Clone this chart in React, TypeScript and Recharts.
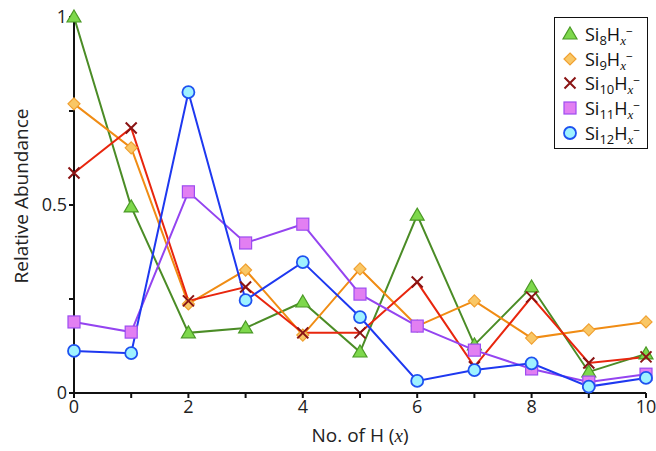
import { Line, LineChart, XAxis, YAxis } from "recharts"

const hCounts = [0, 1, 2, 3, 4, 5, 6, 7, 8, 9, 10]
const si8 = [1.0, 0.495, 0.16, 0.173, 0.242, 0.109, 0.473, 0.128, 0.282, 0.056, 0.104]
const si9 = [0.769, 0.652, 0.237, 0.327, 0.154, 0.33, 0.178, 0.245, 0.146, 0.168, 0.189]
const si10 = [0.585, 0.705, 0.245, 0.282, 0.16, 0.16, 0.295, 0.07, 0.255, 0.08, 0.096]
const si11 = [0.189, 0.162, 0.535, 0.399, 0.449, 0.263, 0.178, 0.114, 0.064, 0.029, 0.05]
const si12 = [0.112, 0.106, 0.8, 0.247, 0.348, 0.202, 0.032, 0.061, 0.079, 0.017, 0.04]

const xTicks = [0, 1, 2, 3, 4, 5, 6, 7, 8, 9, 10]
const yTicks = [0, 0.25, 0.5, 0.75, 1]

type Shape = "triangle" | "diamond" | "cross" | "square" | "circle"

const series: { key: string; n: string; line: string; fill: string; stroke: string; shape: Shape }[] = [
  { key: "si8", n: "8", line: "#4b8c26", fill: "#7ed84c", stroke: "#4b9a26", shape: "triangle" },
  { key: "si9", n: "9", line: "#f08c14", fill: "#f9c766", stroke: "#f0a030", shape: "diamond" },
  { key: "si10", n: "10", line: "#e8260e", fill: "none", stroke: "#8a1414", shape: "cross" },
  { key: "si11", n: "11", line: "#9444f0", fill: "#e27ff2", stroke: "#9d4cf0", shape: "square" },
  { key: "si12", n: "12", line: "#1e38f0", fill: "#9ff2ff", stroke: "#1e52f0", shape: "circle" },
]

const data = hCounts.map((h, i) => ({
  h,
  si8: si8[i],
  si9: si9[i],
  si10: si10[i],
  si11: si11[i],
  si12: si12[i],
}))

const font = "'Open Sans', 'DejaVu Sans', sans-serif"

function Marker({ cx, cy, shape, fill, stroke }: any) {
  if (cx == null || cy == null) return null
  if (shape === "triangle") {
    return <path d={`M${cx},${cy - 7} L${cx + 7},${cy + 5} L${cx - 7},${cy + 5} Z`} fill={fill} stroke={stroke} strokeWidth={1.2} />
  }
  if (shape === "diamond") {
    return <path d={`M${cx},${cy - 6} L${cx + 6},${cy} L${cx},${cy + 6} L${cx - 6},${cy} Z`} fill={fill} stroke={stroke} strokeWidth={1.2} />
  }
  if (shape === "cross") {
    return <path d={`M${cx - 5.5},${cy - 5.5} L${cx + 5.5},${cy + 5.5} M${cx + 5.5},${cy - 5.5} L${cx - 5.5},${cy + 5.5}`} stroke={stroke} strokeWidth={2} />
  }
  if (shape === "square") {
    return <rect x={cx - 6} y={cy - 6} width={12} height={12} fill={fill} stroke={stroke} strokeWidth={1.2} />
  }
  return <circle cx={cx} cy={cy} r={6} fill={fill} stroke={stroke} strokeWidth={1.8} />
}

const subStyle = { fontSize: 13, position: "relative" as const, top: 4, lineHeight: 1 }
const supStyle = { fontSize: 12, position: "relative" as const, top: -5, lineHeight: 1 }

function LegendBox() {
  return (
    <div
      style={{
        position: "absolute",
        left: 554,
        top: 17,
        border: "1.5px solid #111",
        background: "#fff",
        width: 92,
        padding: "4px 0 3px 0",
        fontFamily: font,
        fontSize: 18,
        color: "#111",
      }}
    >
      {series.map((s) => (
        <div key={s.key} style={{ display: "flex", alignItems: "center", height: 24.6 }}>
          <svg width={30} height={20} style={{ flex: "none" }}>
            <Marker cx={15} cy={10} shape={s.shape} fill={s.fill} stroke={s.stroke} />
          </svg>
          <span style={{ whiteSpace: "nowrap", lineHeight: 1 }}>
            Si<span style={subStyle}>{s.n}</span>H
            <span style={{ ...subStyle, fontSize: 13, fontStyle: "italic", fontFamily: "'Liberation Serif', serif" }}>x</span>
            <span style={supStyle}>−</span>
          </span>
        </div>
      ))}
    </div>
  )
}

export default function App() {
  return (
    <div style={{ position: "absolute", left: 0, top: 0, width: 656, height: 451, background: "#fff" }}>
      <LineChart width={656} height={451} data={data} margin={{ top: 17, right: 10, bottom: 0, left: 0 }}>
        <XAxis
          dataKey="h"
          type="number"
          domain={[0, 10]}
          ticks={xTicks}
          interval={0}
          height={58}
          stroke="#111"
          strokeWidth={2}
          tickSize={5}
          tick={{ fill: "#222", fontSize: 18, fontFamily: font }}
          tickFormatter={(v: number) => (v % 2 === 0 ? String(v) : "")}
          label={{
            content: ({ viewBox }: any) => (
              <text x={viewBox.x + viewBox.width / 2} y={viewBox.y + 49} textAnchor="middle" fontSize={19} fontFamily={font} fill="#222">
                No. of H (<tspan fontStyle="italic" fontFamily="'Liberation Serif', serif">x</tspan>)
              </text>
            ),
          }}
        />
        <YAxis
          type="number"
          domain={[0, 1]}
          ticks={yTicks}
          interval={0}
          width={74}
          stroke="#111"
          strokeWidth={2}
          tickSize={5}
          tick={{ fill: "#222", fontSize: 18, fontFamily: font }}
          tickFormatter={(v: number) => (v === 0 ? "0" : v === 0.5 ? "0.5" : v === 1 ? "1" : "")}
          label={{
            content: () => (
              <text
                x={28}
                y={196}
                textAnchor="middle"
                fontSize={19}
                fontFamily={font}
                fill="#222"
                transform="rotate(-90 28 196)"
              >
                Relative Abundance
              </text>
            ),
          }}
        />
        {series.map((s) => (
          <Line
            key={s.key}
            dataKey={s.key}
            type="linear"
            stroke={s.line}
            strokeWidth={2}
            isAnimationActive={false}
            dot={(p: any) => <Marker key={`${s.key}-${p.index}`} cx={p.cx} cy={p.cy} shape={s.shape} fill={s.fill} stroke={s.stroke} />}
            activeDot={false}
          />
        ))}
      </LineChart>
      <LegendBox />
    </div>
  )
}
